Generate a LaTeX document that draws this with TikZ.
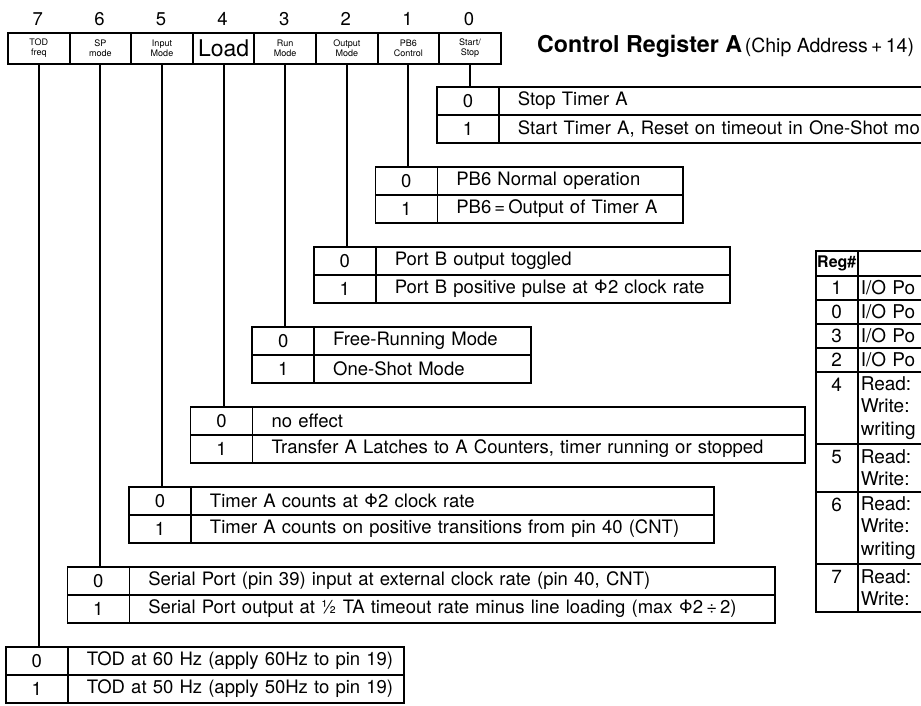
\documentclass[tikz,border=0pt]{standalone}
\usepackage{fontspec}
\setmainfont{TeX Gyre Heros}
\usetikzlibrary{positioning}

\newcommand{\rowfont}{\fontsize{18.5}{21}\selectfont}
\newcommand{\bitfont}{\fontsize{9}{10}\selectfont}
\newcommand{\regfont}{\fontsize{19}{22.5}\selectfont}

\tikzset{
  bitbox/.style={draw, line width=2pt, minimum width=61.6pt, minimum height=31pt,
    inner sep=0pt, anchor=north west, align=center, font=\bitfont},
  bitnum/.style={inner sep=0pt, font=\fontsize{18.5}{18.5}\selectfont},
  numcell/.style={draw, line width=1.5pt, minimum width=62pt, minimum height=28pt,
    inner sep=0pt, anchor=north west, font=\rowfont},
  desccell/.style={draw, line width=1.5pt, minimum height=28pt, inner sep=0pt,
    anchor=north west, align=left, text width=#1, font=\rowfont,
    execute at begin node={\hspace*{19pt}}},
  regnum/.style={draw, line width=1.5pt, minimum width=42pt, minimum height=#1,
    inner sep=0pt, anchor=north west, align=center, font=\regfont},
  regtext/.style={draw, line width=1.5pt, minimum height=#1, inner xsep=3pt,
    inner ysep=0pt, anchor=north west, align=left, text width=137pt, font=\regfont},
  wire/.style={draw, line width=2pt}
}

\begin{document}
\begin{tikzpicture}[x=1pt,y=-1pt]
  \path[use as bounding box] (0,0) rectangle (921,705);
  \clip (0,0) rectangle (921,705);

  % bit numbers
  \node[bitnum] (n7) at (37.8,19) {7};
  \node[bitnum] (n6) at (99.4,19) {6};
  \node[bitnum] (n5) at (161.0,19) {5};
  \node[bitnum] (n4) at (222.6,19) {4};
  \node[bitnum] (n3) at (284.2,19) {3};
  \node[bitnum] (n2) at (345.8,19) {2};
  \node[bitnum] (n1) at (407.4,19) {1};
  \node[bitnum] (n0) at (469.0,19) {0};

  % register bits
  \node[bitbox] (bit7) at (7.0,32) {TOD\\freq};
  \node[bitbox] (bit6) at (68.6,32) {SP\\mode};
  \node[bitbox] (bit5) at (130.2,32) {Input\\Mode};
  \node[bitbox, font=\fontsize{23}{23}\selectfont] (bit4) at (191.8,32) {Load};
  \node[bitbox] (bit3) at (253.4,32) {Run\\Mode};
  \node[bitbox] (bit2) at (315.0,32) {Output\\Mode};
  \node[bitbox] (bit1) at (376.6,32) {PB6\\Control};
  \node[bitbox] (bit0) at (438.2,32) {Start/\\Stop};

  \node[anchor=base west, inner sep=0pt] (title) at (537,52)
    {{\fontsize{23.2}{25}\selectfont\bfseries Control Register A}
     {\fontsize{19.5}{21}\selectfont(Chip Address\,+\,14)}};

  % bit 0
  \node[numcell] (s0) at (436.2,86) {0};
  \node[desccell=501.8pt] (s0t) at (498.2,86) {Stop Timer A};
  \node[numcell] (s1) at (436.2,114) {1};
  \node[desccell=501.8pt] (s1t) at (498.2,114) {Start Timer A, Reset on timeout in One-Shot mo};

  % bit 1
  \node[numcell] (p0) at (374.6,166) {0};
  \node[desccell=245.4pt] (p0t) at (436.6,166) {PB6 Normal operation};
  \node[numcell] (p1) at (374.6,194) {1};
  \node[desccell=245.4pt] (p1t) at (436.6,194) {PB6\,=\,Output of Timer A};

  % bit 2
  \node[numcell] (o0) at (313.0,246) {0};
  \node[desccell=354pt] (o0t) at (375.0,246) {Port B output toggled};
  \node[numcell] (o1) at (313.0,274) {1};
  \node[desccell=354pt] (o1t) at (375.0,274) {Port B positive pulse at Φ2 clock rate};

  % bit 3
  \node[numcell] (r0) at (251.4,326) {0};
  \node[desccell=216.6pt] (r0t) at (313.4,326) {Free-Running Mode};
  \node[numcell] (r1) at (251.4,354) {1};
  \node[desccell=216.6pt] (r1t) at (313.4,354) {One-Shot Mode};

  % bit 4
  \node[numcell] (l0) at (189.8,406) {0};
  \node[desccell=552.2pt] (l0t) at (251.8,406) {no effect};
  \node[numcell] (l1) at (189.8,434) {1};
  \node[desccell=552.2pt] (l1t) at (251.8,434) {Transfer A Latches to A Counters, timer running or stopped};

  % bit 5
  \node[numcell] (i0) at (128.2,486) {0};
  \node[desccell=522.8pt] (i0t) at (190.2,486) {Timer A counts at Φ2 clock rate};
  \node[numcell] (i1) at (128.2,514) {1};
  \node[desccell=522.8pt] (i1t) at (190.2,514) {Timer A counts on positive transitions from pin 40 (CNT)};

  % bit 6
  \node[numcell] (m0) at (66.6,566) {0};
  \node[desccell=645.4pt] (m0t) at (128.6,566) {Serial Port (pin 39) input at external clock rate (pin 40, CNT)};
  \node[numcell] (m1) at (66.6,594) {1};
  \node[desccell=645.4pt] (m1t) at (128.6,594) {Serial Port output at ½ TA timeout rate minus line loading (max Φ2\,÷\,2)};

  % bit 7
  \node[numcell] (t0) at (5.0,646) {0};
  \node[desccell=336pt] (t0t) at (67.0,646) {TOD at 60 Hz (apply 60Hz to pin 19)};
  \node[numcell] (t1) at (5.0,674) {1};
  \node[desccell=336pt] (t1t) at (67.0,674) {TOD at 50 Hz (apply 50Hz to pin 19)};

  \draw[wire] (bit0.south) -- (bit0.south |- s0.north);
  \draw[wire] (bit1.south) -- (bit1.south |- p0.north);
  \draw[wire] (bit2.south) -- (bit2.south |- o0.north);
  \draw[wire] (bit3.south) -- (bit3.south |- r0.north);
  \draw[wire] (bit4.south) -- (bit4.south |- l0.north);
  \draw[wire] (bit5.south) -- (bit5.south |- i0.north);
  \draw[wire] (bit6.south) -- (bit6.south |- m0.north);
  \draw[wire] (bit7.south) -- (bit7.south |- t0.north);

  % register map
  \node[regnum=25pt, font=\fontsize{16}{18}\selectfont\bfseries] (rh) at (815,250) {Reg\#};
  \node[regtext=25pt] (rht) at (857,250) {};
  \node[regnum=24pt] (g1) at (815,275) {1};
  \node[regtext=24pt] (g1t) at (857,275) {I/O Po};
  \node[regnum=24pt] (g0) at (815,299) {0};
  \node[regtext=24pt] (g0t) at (857,299) {I/O Po};
  \node[regnum=24pt] (g3) at (815,323) {3};
  \node[regtext=24pt] (g3t) at (857,323) {I/O Po};
  \node[regnum=24pt] (g2) at (815,347) {2};
  \node[regtext=24pt] (g2t) at (857,347) {I/O Po};
  \node[regnum=72pt] (g4) at (815,371) {4\\~\\~};
  \node[regtext=72pt] (g4t) at (857,371) {Read:\\Write:\\writing};
  \node[regnum=48pt] (g5) at (815,443) {5\\~};
  \node[regtext=48pt] (g5t) at (857,443) {Read:\\Write:};
  \node[regnum=72pt] (g6) at (815,491) {6\\~\\~};
  \node[regtext=72pt] (g6t) at (857,491) {Read:\\Write:\\writing};
  \node[regnum=48pt] (g7) at (815,563) {7\\~};
  \node[regtext=48pt] (g7t) at (857,563) {Read:\\Write:};
\end{tikzpicture}
\end{document}
